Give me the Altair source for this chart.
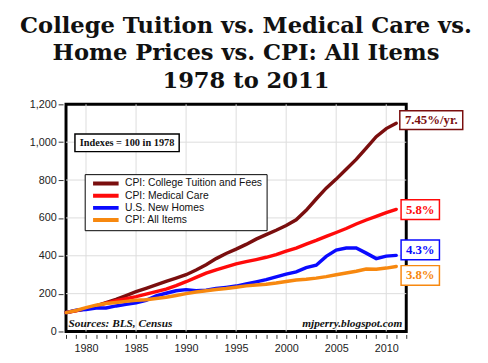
import altair as alt
import pandas as pd

years = list(range(1978, 2012))
tuition = [100, 110, 120, 135, 152, 170, 190, 210, 228, 246, 265, 282, 300, 325, 353, 385, 412, 435,
           460, 488, 512, 535, 560, 590, 640, 700, 757, 805, 857, 909, 969, 1029, 1072, 1100]
medical = [100, 109, 121, 134, 150, 163, 173, 184, 197, 211, 224, 242, 263, 286, 308, 326, 341, 357,
           369, 380, 392, 406, 424, 441, 462, 481, 502, 523, 544, 568, 589, 608, 628, 645]
homes = [100, 113, 116, 124, 124, 135, 143, 151, 165, 188, 202, 215, 221, 215, 218, 227, 233, 240,
         251, 262, 274, 289, 303, 315, 337, 350, 397, 430, 441, 441, 414, 385, 398, 402]
cpi = [100, 111, 126, 139, 148, 153, 159, 165, 168, 174, 181, 190, 200, 209, 215, 222, 227, 234,
       241, 246, 250, 256, 264, 272, 276, 282, 290, 300, 309, 318, 330, 329, 335, 343]

series_names = ["CPI: College Tuition and Fees", "CPI: Medical Care", "U.S. New Homes", "CPI: All Items"]
series_colors = ["#7a0e0e", "#ff0a0a", "#0a0aff", "#f7880f"]

end_labels = ["7.45%/yr.", "5.8%", "4.3%", "3.8%"]
end_label_values = [1117, 644, 431, 296]

x_tick_values = list(range(1978, 2013))
y_tick_values = [0, 200, 400, 600, 800, 1000, 1200]

rows = []
for name, vals in zip(series_names, [tuition, medical, homes, cpi]):
    for y, v in zip(years, vals):
        rows.append({"year": y, "value": v, "series": name})
df = pd.DataFrame(rows)

W, H = 346, 231
xscale = alt.Scale(domain=[1978, 2012], nice=False)
yscale = alt.Scale(domain=[0, 1200], nice=False)

xaxis = alt.Axis(values=x_tick_values, labelExpr="datum.value % 5 == 0 ? datum.value : ''",
                 grid=False, domain=False, tickSize=4, offset=3, labelPadding=4,
                 labelFont="Liberation Sans", labelFontSize=11, labelColor="#222",
                 tickColor="#333", title=None, labelFlush=False, labelOverlap=False)
yaxis = alt.Axis(values=y_tick_values, format=",d", grid=False, domain=False,
                 tickSize=5, offset=3, labelPadding=2, labelFont="Liberation Sans",
                 labelFontSize=11, labelColor="#222", tickColor="#333", title=None,
                 labelOverlap=False, labelFlush=False)


def X():
    return alt.X("year:Q", scale=xscale, axis=xaxis)


def Y():
    return alt.Y("value:Q", scale=yscale, axis=yaxis)


grid_x = pd.DataFrame({"year": [1980, 1985, 1990, 1995, 2000, 2005, 2010]})
grid_y = pd.DataFrame({"value": [200, 400, 600, 800, 1000]})

vgrid = alt.Chart(grid_x).mark_rule(color="#dcdcdc", strokeWidth=1).encode(x=X())
hgrid = alt.Chart(grid_y).mark_rule(color="#dcdcdc", strokeWidth=1).encode(y=Y())

lines = alt.Chart(df).mark_line(strokeWidth=3.5, strokeCap="round").encode(
    x=X(), y=Y(),
    color=alt.Color("series:N", sort=series_names,
                    scale=alt.Scale(domain=series_names, range=series_colors),
                    legend=alt.Legend(title=None, orient="none", legendX=19, legendY=71,
                                      strokeColor="black", fillColor="white", padding=4,
                                      symbolType="M-2.5,0H2.5", symbolStrokeWidth=4, symbolSize=108,
                                      symbolOffset=10, labelOffset=12, clipHeight=11,
                                      labelFont="Liberation Sans", labelFontSize=10.5, labelColor="#111",
                                      rowPadding=1.4)),
    order=alt.Order("year:Q"),
)

lab = pd.DataFrame({"label": end_labels, "value": end_label_values, "color": series_colors,
                    "year": [2014.5, 2013.4, 2013.4, 2013.4]})
big = lab.iloc[[0]]
small = lab.iloc[1:]

big_box = alt.Chart(big).mark_rect(width=64, height=19, fill="white", strokeWidth=1.5).encode(
    x=X(), y=Y(), stroke=alt.Stroke("color:N", scale=None))
small_box = alt.Chart(small).mark_rect(width=39, height=20, fill="white", strokeWidth=1.5).encode(
    x=X(), y=Y(), stroke=alt.Stroke("color:N", scale=None))
lab_text = alt.Chart(lab).mark_text(font="Liberation Serif", fontWeight="bold", fontSize=13,
                                    baseline="middle", align="center").encode(
    x=X(), y=Y(), text="label:N", color=alt.Color("color:N", scale=None))

idx = pd.DataFrame({"year": [1984.1], "value": [997], "label": ["Indexes = 100 in 1978"]})
idx_box = alt.Chart(idx).mark_rect(width=106, height=18, fill="white", stroke="black", strokeWidth=1.5).encode(
    x=X(), y=Y())
idx_text = alt.Chart(idx).mark_text(font="Liberation Serif", fontWeight="bold", fontSize=10.5,
                                    baseline="middle", align="center", color="#111").encode(
    x=X(), y=Y(), text="label:N")

src = pd.DataFrame({"year": [1978.25], "value": [25], "label": ["Sources: BLS, Census"]})
src_text = alt.Chart(src).mark_text(font="Liberation Serif", fontWeight="bold", fontStyle="italic",
                                    fontSize=11.5, baseline="alphabetic", align="left", color="#111").encode(
    x=X(), y=Y(), text="label:N")
web = pd.DataFrame({"year": [2011.6], "value": [25], "label": ["mjperry.blogspot.com"]})
web_text = alt.Chart(web).mark_text(font="Liberation Serif", fontWeight="bold", fontStyle="italic",
                                    fontSize=11.5, baseline="alphabetic", align="right", color="#111").encode(
    x=X(), y=Y(), text="label:N")

chart = alt.layer(vgrid, hgrid, lines, idx_box, idx_text, src_text, web_text,
                  big_box, small_box, lab_text).properties(
    width=W, height=H,
    autosize=alt.AutoSizeParams(type="none"),
    padding={"left": 59, "top": 95, "right": 75, "bottom": 25},
    title=alt.TitleParams(["College Tuition vs. Medical Care vs.", "Home Prices vs. CPI: All Items",
                           "1978 to 2011"],
                          font="DejaVu Serif", fontSize=23, fontWeight="bold", color="#111",
                          anchor="middle", frame="group", offset=6, lineHeight=28, dx=10),
    background="white",
).configure_view(stroke="black", strokeWidth=3).configure_axis(labelOverlap=False)

chart.save("out.html", embed_options={"renderer": "svg", "actions": False})
